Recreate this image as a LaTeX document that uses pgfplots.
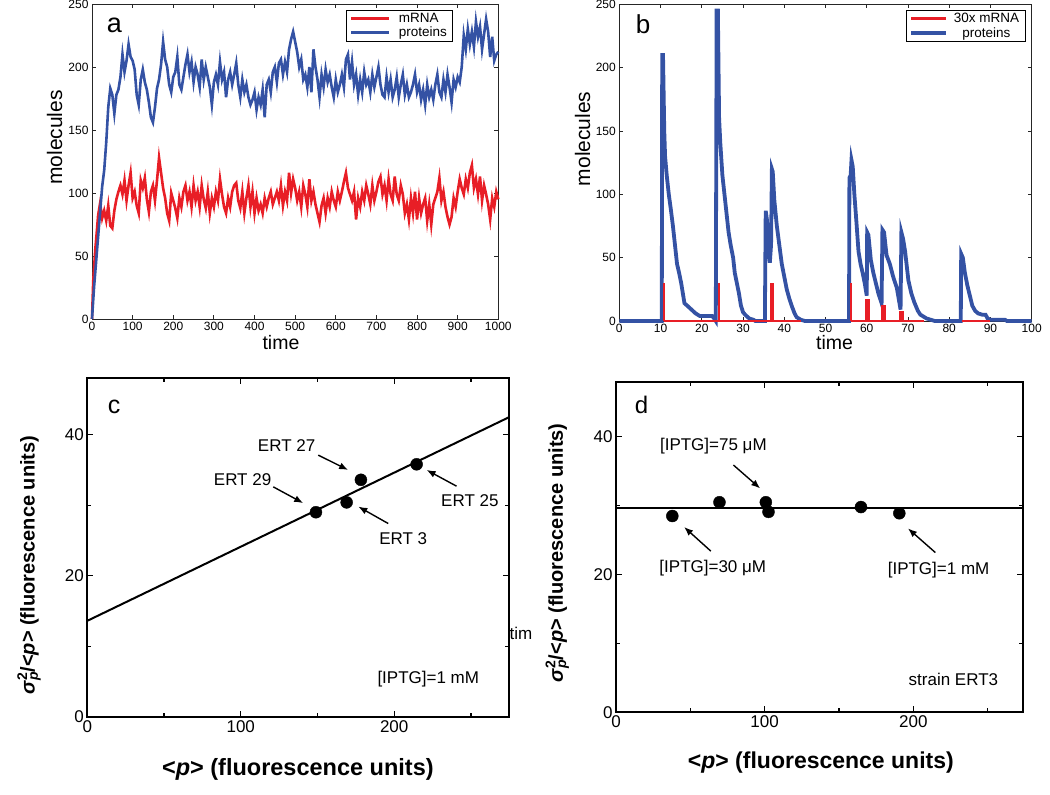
\documentclass[border=0pt]{standalone}
\usepackage{fontspec}
\setmainfont{Liberation Sans}
\usepackage{pgfplots}
\pgfplotsset{compat=1.18}
\usetikzlibrary{arrows.meta}
\definecolor{mred}{RGB}{232,30,38}
\definecolor{mblue}{RGB}{52,82,164}
\newcommand{\fs}[1]{\fontsize{#1}{#1}\selectfont}
\pgfplotsset{
  panelab/.style={
    scale only axis, clip=false,
    axis line style={black!85, line width=0.8pt},
    tick style={black!85, line width=0.8pt},
    tick align=inside, major tick length=4pt,
    xticklabel pos=lower, yticklabel pos=left,
    tick label style={font=\fs{12}},
    /pgf/number format/assume math mode=true,
    /pgf/number format/1000 sep={},
    ymin=0, ymax=250, ytick={0,50,...,250},
    legend style={draw=black, line width=0.8pt, font=\fs{13.5}, inner xsep=4pt, inner ysep=1pt, row sep=-1pt},
  },
  panelcd/.style={
    scale only axis, clip=false,
    axis line style={black, line width=1.8pt},
    tick style={black, line width=1.3pt},
    tick align=inside, major tick length=6pt, minor tick length=4pt,
    xticklabel pos=lower, yticklabel pos=left,
    tick label style={font=\fs{17}},
    /pgf/number format/assume math mode=true,
    ymin=0, ymax=48, xmin=0,
    xtick={0,100,200}, minor xtick={50,150,250},
    ytick={0,20,40}, minor ytick={10,30},
  },
}
\begin{document}
\begin{tikzpicture}[x=1pt,y=1pt]
\path[use as bounding box] (0,0) rectangle (1050,795);

% ---------------- panel a ----------------
\begin{axis}[panelab, at={(92pt,476pt)}, anchor=south west,
  width=406.3pt, height=315pt,
  xmin=0, xmax=1000, xtick={0,100,...,1000},
  xlabel={time}, ylabel={molecules},
  xlabel style={font=\fs{19.5}, at={(axis description cs:0.465,-0.076)}, anchor=center},
  ylabel style={font=\fs{21}, at={(axis description cs:-0.092,0.576)}, anchor=center},
  legend style={at={(0.889,0.981)}, anchor=north east}, legend cell align=left]
\addlegendimage{legend image code/.code={\path[draw=none,fill=none] (0pt,0pt) -- (46pt,0pt); \fill[mred,draw=none] (0pt,-1.4pt) rectangle (38pt,1.4pt);}}\addlegendentry{mRNA}
\addlegendimage{legend image code/.code={\path[draw=none,fill=none] (0pt,0pt) -- (46pt,0pt); \fill[mblue,draw=none] (0pt,-1.4pt) rectangle (38pt,1.4pt);}}\addlegendentry{proteins}
\addplot[mred, line width=2.6pt, forget plot] coordinates {
(0,0)(3,30)(8,55)(12,70)(15,82)(20,92)(25,80)(30,86)(35,78)(40,90)(45,74)(50,72)(55,86)(60,95)(65,101)(70,106)(75,99)(80,110)(85,94)(90,106)(95,116)(100,96)
(105,101)(110,90)(115,84)(120,110)(125,104)(130,112)(135,95)(140,85)(145,101)(150,106)(155,94)(160,110)(165,128)(170,116)(175,104)(180,96)(185,84)(190,78)(195,100)(200,94)
(205,88)(210,80)(215,96)(220,89)(225,101)(230,106)(235,94)(240,101)(245,89)(250,106)(255,94)(260,101)(265,89)(270,106)(275,95)(280,88)(285,101)(290,84)(295,96)(300,89)
(305,101)(310,94)(315,111)(320,99)(325,89)(330,84)(335,96)(340,89)(345,101)(350,106)(355,108)(360,94)(365,88)(370,101)(375,84)(380,96)(385,106)(390,89)(395,101)(400,84)
(405,96)(410,86)(415,91)(420,84)(425,96)(430,89)(435,96)(440,101)(445,91)(450,96)(455,101)(460,94)(465,106)(470,90)(475,101)(480,94)(485,116)(490,100)(495,111)(500,104)
(505,94)(510,101)(515,89)(520,106)(525,99)(530,89)(535,111)(540,94)(545,101)(550,91)(555,84)(560,77)(565,90)(570,96)(575,84)(580,96)(585,89)(590,101)(595,94)(600,89)
(605,101)(610,94)(615,101)(620,109)(625,116)(630,104)(635,99)(640,94)(645,101)(650,79)(655,96)(660,89)(665,101)(670,94)(675,106)(680,99)(685,91)(690,106)(695,94)(700,101)
(705,109)(710,113)(715,99)(720,106)(725,94)(730,111)(735,99)(740,94)(745,113)(750,99)(755,94)(760,106)(765,99)(770,84)(775,91)(780,79)(785,96)(790,84)(795,101)(800,79)
(805,96)(810,84)(815,91)(820,96)(825,78)(830,91)(835,75)(840,91)(845,96)(850,101)(855,112)(860,94)(865,101)(870,89)(875,81)(880,75)(885,81)(890,96)(895,89)(900,101)
(905,111)(910,104)(915,99)(920,111)(925,104)(930,116)(935,122)(940,104)(945,111)(950,99)(955,113)(960,94)(965,106)(970,99)(975,91)(980,79)(985,96)(990,89)(995,101)(1000,95)
};
\addplot[mblue, line width=2.6pt, forget plot] coordinates {
(0,0)(5,25)(10,45)(15,65)(20,85)(25,105)(30,118)(35,140)(40,168)(45,183)(50,178)(55,163)(60,178)(65,182)(70,192)(75,210)(80,196)(85,205)(90,218)(95,208)(100,205)
(105,198)(110,178)(115,170)(120,190)(125,198)(130,188)(135,182)(140,172)(145,160)(150,156)(155,168)(160,183)(165,190)(170,202)(175,220)(180,206)(185,200)(190,186)(195,180)(200,192)
(205,196)(210,208)(215,186)(220,182)(225,192)(230,202)(235,210)(240,196)(245,204)(250,188)(255,200)(260,194)(265,184)(270,206)(275,190)(280,200)(285,192)(290,184)(295,170)(300,188)
(305,194)(310,186)(315,204)(320,190)(325,196)(330,176)(335,190)(340,196)(345,186)(350,194)(355,203)(360,186)(365,176)(370,190)(375,180)(380,186)(385,176)(390,170)(395,174)(400,180)
(405,166)(410,176)(415,170)(420,182)(425,160)(430,186)(435,190)(440,180)(445,196)(450,200)(455,188)(460,203)(465,206)(470,194)(475,204)(480,196)(485,214)(490,222)(495,228)(500,220)
(505,212)(510,200)(515,206)(520,190)(525,194)(530,184)(535,200)(540,180)(545,214)(550,200)(555,190)(560,176)(565,194)(570,184)(575,198)(580,188)(585,194)(590,184)(595,176)(600,190)
(605,180)(610,186)(615,194)(620,184)(625,206)(630,210)(635,190)(640,204)(645,186)(650,194)(655,178)(660,190)(665,180)(670,196)(675,186)(680,190)(685,180)(690,194)(695,184)(700,192)
(705,200)(710,186)(715,178)(720,176)(725,192)(730,180)(735,190)(740,176)(745,182)(750,192)(755,176)(760,186)(765,194)(770,178)(775,186)(780,176)(785,180)(790,186)(795,194)(800,180)
(805,186)(810,174)(815,182)(820,170)(825,186)(830,176)(835,182)(840,174)(845,186)(850,194)(855,180)(860,176)(865,190)(870,180)(875,194)(880,184)(885,172)(890,190)(895,184)(900,192)
(905,188)(910,200)(915,225)(920,214)(925,230)(930,218)(935,228)(940,216)(945,236)(950,224)(955,232)(960,214)(965,226)(970,238)(975,228)(980,208)(985,224)(990,205)(995,210)(1000,212)
};
\end{axis}

% ---------------- panel b ----------------
\begin{axis}[panelab, at={(619.3pt,474pt)}, anchor=south west,
  width=412.4pt, height=316.7pt,
  xmin=0, xmax=100, xtick={0,10,...,100},
  xlabel={time}, ylabel={molecules},
  xlabel style={font=\fs{19.5}, at={(axis description cs:0.522,-0.069)}, anchor=center},
  ylabel style={font=\fs{21}, at={(axis description cs:-0.089,0.575)}, anchor=center},
  legend style={at={(0.985,0.982)}, anchor=north east}, legend cell align=center]
\addlegendimage{legend image code/.code={\path[draw=none,fill=none] (0pt,0pt) -- (41pt,0pt); \fill[mred,draw=none] (0pt,-1.4pt) rectangle (35pt,1.4pt);}}\addlegendentry{30x mRNA}
\addlegendimage{legend image code/.code={\path[draw=none,fill=none] (0pt,0pt) -- (41pt,0pt); \fill[mblue,draw=none] (0pt,-1.8pt) rectangle (35pt,1.8pt);}}\addlegendentry{proteins}
\addplot[mblue, line width=3.8pt, forget plot] coordinates {
(0,0)(10.3,0)(10.4,210)(10.6,210)(10.9,150)(11.1,130)(11.5,115)(12,100)(12.5,88)(13,75)(13.5,60)(14,45)(14.5,38)(15,30)(15.5,20)(15.8,14)(16.5,12)(17.5,9)(18.5,6)(19.5,4)(20.5,4)(22.5,4)(23,2)(23.4,0)
(23.6,245)(23.9,245)(24.2,160)(24.5,140)(25,115)(25.5,100)(26,85)(26.5,70)(27,60)(27.6,50)(28,38)(28.5,30)(29,22)(29.5,12)(30,7)(30.5,5)(31.5,2)(32.5,1)(33,0)
(35.3,0)(35.5,87)(35.8,80)(36.2,55)(36.5,46)(36.8,60)(37,120)(37.2,118)(37.6,95)(38.2,75)(38.8,60)(39.4,45)(40,35)(40.6,25)(41.2,18)(41.8,12)(42.5,6)(43,3)(44,1)(45,0)
(55.7,0)(55.8,113)(56.1,115)(56.3,127)(56.6,122)(57,100)(57.5,78)(58,55)(58.5,45)(59,38)(59.5,30)(60,20)(60.1,70)(60.4,68)(61,48)(61.6,38)(62.2,30)(62.8,22)(63.6,14)
(63.8,72)(64.2,70)(64.8,52)(65.6,45)(66.4,35)(67.3,26)(68.2,9)(68.4,70)(68.8,65)(69.3,55)(70.1,32)(70.8,22)(71.5,15)(72.4,8)(73,5)(74.5,2)(75.5,1)(76.5,0)
(82.8,0)(82.9,53)(83.3,50)(83.8,38)(84.4,28)(85,20)(85.6,12)(86.3,8)(87,6)(88,5)(88.8,5)(89.3,2)(90,1)(93.5,1)(94,0)(100,0)
};
\addplot[mred, line width=1.8pt, forget plot] coordinates {(10.85,0)(44,0)};
\addplot[mred, line width=1.8pt, forget plot] coordinates {(56.3,0)(74,0)};
\addplot[mred, line width=1.8pt, forget plot] coordinates {(83.1,0)(90,0)};
\addplot[mred, ycomb, line width=2pt, forget plot] coordinates {(10.85,30)(24.1,30)(56.3,30)};
\addplot[mred, ycomb, line width=4.5pt, forget plot] coordinates {(37.05,30)(60.2,17)(64.05,13)(68.45,8)};
\end{axis}

% ---------------- panel c ----------------
\begin{axis}[panelcd, at={(87.3pt,78.3pt)}, anchor=south west,
  width=422pt, height=338.4pt, xmax=275,
  xlabel={\textbf{<\textit{p}> (fluorescence units)}},
  ylabel={\textbf{\textit{σ}\rlap{\textsubscript{\textit{p}}}\textsuperscript{2}/<\textit{p}> (fluorescence units)}},
  xlabel style={font=\fs{23.5}, at={(axis description cs:0.499,-0.155)}, anchor=center},
  ylabel style={font=\fs{20}, at={(axis description cs:-0.138,0.448)}, anchor=center}]
\addplot[black, line width=2pt] coordinates {(0,13.6) (275,42.5)};
\addplot[only marks, mark=*, mark size=6pt, black] coordinates {(149,29.0) (169,30.4) (178.3,33.6) (214.6,35.8)};
\begin{scope}[font=\fs{17}]
\node at (axis cs:129.9,38.5) {ERT 27};
\node at (axis cs:101.2,33.6) {ERT 29};
\node at (axis cs:205.9,25.2) {ERT 3};
\node at (axis cs:249.3,30.7) {ERT 25};
\node at (axis cs:222.2,5.4) {[IPTG]=1 mM};
\end{scope}
\begin{scope}[line width=1.4pt, -{Latex[length=9pt,width=7pt]}]
\draw (axis cs:150.5,37.1) -- (axis cs:170,35.0);
\draw (axis cs:121.2,32.6) -- (axis cs:140.7,30.3);
\draw (axis cs:196.1,27.4) -- (axis cs:176.6,29.8);
\draw (axis cs:240.6,32.7) -- (axis cs:221.1,35.0);
\end{scope}
\end{axis}

% ---------------- panel d ----------------
\begin{axis}[panelcd, at={(616pt,82.7pt)}, anchor=south west,
  width=407.3pt, height=330.6pt, xmax=274,
  xlabel={\textbf{<\textit{p}> (fluorescence units)}},
  ylabel={\textbf{\textit{σ}\rlap{\textsubscript{\textit{p}}}\textsuperscript{2}/<\textit{p}> (fluorescence units)}},
  xlabel style={font=\fs{23}, at={(axis description cs:0.503,-0.153)}, anchor=center},
  ylabel style={font=\fs{20}, at={(axis description cs:-0.144,0.482)}, anchor=center}]
\addplot[black, line width=2pt] coordinates {(0,29.7) (274,29.7)};
\addplot[only marks, mark=*, mark size=6pt, black] coordinates {(37.9,28.5) (69.6,30.5) (100.8,30.5) (102.6,29.1) (164.8,29.8) (190.6,28.9)};
\begin{scope}[font=\fs{17}]
\node at (axis cs:65.5,38.6) {[IPTG]=75 μM};
\node at (axis cs:65.1,21.0) {[IPTG]=30 μM};
\node at (axis cs:217,20.6) {[IPTG]=1 mM};
\node at (axis cs:227,4.8) {strain ERT3};
\end{scope}
\begin{scope}[line width=1.4pt, -{Latex[length=9pt,width=7pt]}]
\draw (axis cs:79,35.9) -- (axis cs:97,32.5);
\draw (axis cs:63.8,23.4) -- (axis cs:45.8,26.9);
\draw (axis cs:214.8,23.2) -- (axis cs:196.4,26.7);
\end{scope}
\end{axis}

% panel letters and stray text
\node[font=\fs{27}] at (114.5,769.5) {a};
\node[font=\fs{26}] at (643,770.5) {b};
\node[font=\fs{25}] at (114,388.5) {c};
\node[font=\fs{24}] at (641.5,390) {d};
\node[font=\fs{17}] at (521,162) {tim};
\end{tikzpicture}
\end{document}
